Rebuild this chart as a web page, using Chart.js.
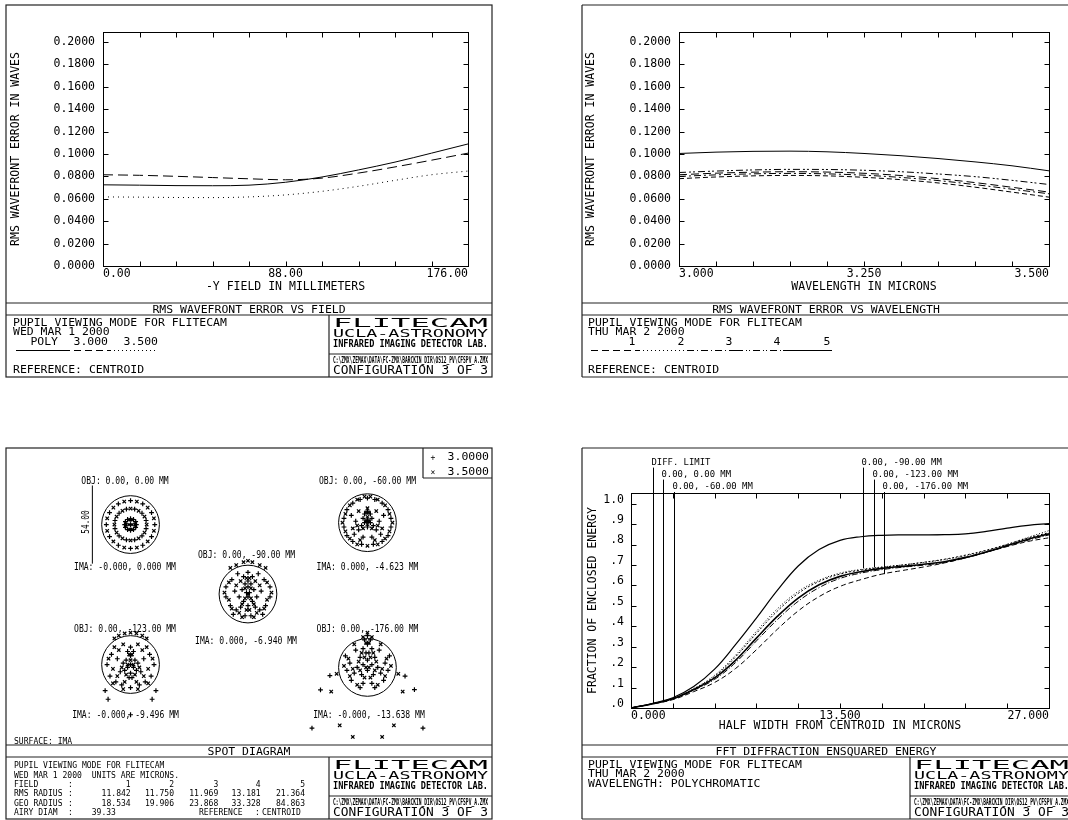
<!DOCTYPE html>
<html>
<head>
<meta charset="utf-8">
<script src="https://cdn.jsdelivr.net/npm/chart.js@4.4.1/dist/chart.umd.min.js"></script>
<style>
html, body { margin: 0; background: #fff; }
#page { position: relative; width: 1068px; height: 820px; overflow: hidden; background: #fff; }
canvas { position: absolute; }
#sheet { position: absolute; left: 0; top: 0; pointer-events: none; }
</style>
</head>
<body>
<div id="page">
  <canvas id="fieldChart" width="486" height="298" style="left:6px;top:5px"></canvas>
  <canvas id="waveChart" width="486" height="298" style="left:582px;top:5px"></canvas>
  <canvas id="spotChart" width="486" height="297" style="left:6px;top:448px"></canvas>
  <canvas id="eeChart" width="486" height="297" style="left:582px;top:448px"></canvas>
  <svg id="sheet" width="1068" height="820"></svg>
</div>
<script>
// ---- RMS wavefront error vs field (waves) ----
var fieldMm = [0, 17.6, 35.2, 52.8, 70.4, 88, 105.6, 123.2, 140.8, 158.4, 176];
var rmsPoly = [0.0725, 0.0722, 0.0718, 0.0717, 0.0722, 0.0748, 0.0795, 0.0858, 0.0928, 0.1008, 0.1090];
var rms3000 = [0.0815, 0.0810, 0.0801, 0.0790, 0.0779, 0.0770, 0.0785, 0.0830, 0.0885, 0.0945, 0.1008];
var rms3500 = [0.0617, 0.0615, 0.0612, 0.0611, 0.0617, 0.0635, 0.0667, 0.0712, 0.0765, 0.0815, 0.0848];
var fieldLabelAt = [0, 88, 176];
var fieldLabels = ["0.00", "88.00", "176.00"];
var rmsTicks = [0, 0.02, 0.04, 0.06, 0.08, 0.1, 0.12, 0.14, 0.16, 0.18, 0.2];

// ---- RMS wavefront error vs wavelength, one series per field ----
var waveUm = [3.0, 3.05, 3.1, 3.15, 3.2, 3.25, 3.3, 3.35, 3.4, 3.45, 3.5];
var rmsWave1 = [0.0815, 0.0829, 0.0838, 0.0842, 0.0839, 0.0828, 0.0808, 0.0780, 0.0745, 0.0703, 0.0660];
var rmsWave2 = [0.0780, 0.0795, 0.0805, 0.0809, 0.0805, 0.0792, 0.0771, 0.0742, 0.0704, 0.0660, 0.0615];
var rmsWave3 = [0.0800, 0.0814, 0.0823, 0.0827, 0.0823, 0.0811, 0.0791, 0.0763, 0.0727, 0.0686, 0.0645];
var rmsWave4 = [0.0835, 0.0848, 0.0858, 0.0863, 0.0862, 0.0855, 0.0842, 0.0822, 0.0798, 0.0765, 0.0728];
var rmsWave5 = [0.1005, 0.1017, 0.1024, 0.1026, 0.1020, 0.1005, 0.0985, 0.0960, 0.0930, 0.0895, 0.0850];
var waveLabelAt = [3.0, 3.25, 3.5];
var waveLabels = ["3.000", "3.250", "3.500"];

// ---- FFT diffraction ensquared energy ----
var eeUm = [0, 1.35, 2.7, 4.05, 5.4, 6.75, 8.1, 9.45, 10.8, 12.15, 13.5, 14.85, 16.2, 17.55, 18.9, 20.25, 21.6, 22.95, 24.3, 25.65, 27];
var eeDiff = [0, 0.022, 0.050, 0.105, 0.190, 0.310, 0.440, 0.575, 0.695, 0.775, 0.820, 0.838, 0.845, 0.847, 0.847, 0.848, 0.852, 0.864, 0.880, 0.894, 0.902];
var eeField1 = [0, 0.021, 0.047, 0.095, 0.160, 0.258, 0.375, 0.485, 0.570, 0.625, 0.660, 0.678, 0.690, 0.700, 0.712, 0.726, 0.745, 0.770, 0.800, 0.835, 0.868];
var eeField2 = [0, 0.021, 0.046, 0.093, 0.155, 0.250, 0.365, 0.474, 0.561, 0.619, 0.655, 0.675, 0.688, 0.700, 0.713, 0.728, 0.748, 0.772, 0.801, 0.832, 0.858];
var eeField3 = [0, 0.020, 0.045, 0.090, 0.147, 0.233, 0.342, 0.448, 0.538, 0.603, 0.644, 0.667, 0.683, 0.693, 0.703, 0.716, 0.737, 0.764, 0.795, 0.826, 0.852];
var eeField4 = [0, 0.020, 0.044, 0.087, 0.140, 0.222, 0.328, 0.432, 0.522, 0.589, 0.634, 0.660, 0.677, 0.689, 0.699, 0.712, 0.734, 0.762, 0.792, 0.821, 0.847];
var eeField5 = [0, 0.019, 0.041, 0.080, 0.125, 0.193, 0.285, 0.385, 0.475, 0.545, 0.595, 0.628, 0.655, 0.673, 0.690, 0.710, 0.735, 0.762, 0.790, 0.815, 0.833];
var eeTicks = [0, 2.7, 5.4, 8.1, 10.8, 13.5, 16.2, 18.9, 21.6, 24.3, 27];
var eeLabelAt = [0, 13.5, 27];
var eeLabels = ["0.000", "13.500", "27.000"];
var fracTicks = [0, 0.1, 0.2, 0.3, 0.4, 0.5, 0.6, 0.7, 0.8, 0.9, 1.0];
var fracLabels = [".0", ".1", ".2", ".3", ".4", ".5", ".6", ".7", ".8", ".9", "1.0"];
var markerUm = [1.40, 2.09, 2.76, 14.99, 15.68, 16.35];
var markerFrac = [0.024, 0.036, 0.050, 0.684, 0.688, 0.655];
var markerText = ["DIFF. LIMIT", "0.00, 0.00 MM", "0.00, -60.00 MM", "0.00, -90.00 MM", "0.00, -123.00 MM", "0.00, -176.00 MM"];

// ---- spot diagram (ray offsets in microns, + = 3.0000, x = 3.5000) ----
var airyDiam = 39.33;
var scaleBarUm = 54;
var spotObj = ["OBJ: 0.00, 0.00 MM", "OBJ: 0.00, -60.00 MM", "OBJ: 0.00, -90.00 MM", "OBJ: 0.00, -123.00 MM", "OBJ: 0.00, -176.00 MM"];
var spotIma = ["IMA: -0.000, 0.000 MM", "IMA: 0.000, -4.623 MM", "IMA: 0.000, -6.940 MM", "IMA: -0.000, -9.496 MM", "IMA: -0.000, -13.638 MM"];
var rmsRadius = ["11.842", "11.750", "11.969", "13.181", "21.364"];
var geoRadius = ["18.534", "19.906", "23.868", "33.328", "84.863"];

var spot1Plus = [[16.5,0],[14.3,8.3],[8.3,14.3],[0,16.5],[-8.3,14.3],[-14.3,8.3],[-16.5,0],[-14.3,-8.3],[-8.3,-14.3],[0,-16.5],[8.3,-14.3],[14.3,-8.3],
  [10.6,2.8],[7.8,7.8],[2.8,10.6],[-2.8,10.6],[-7.8,7.8],[-10.6,2.8],[-10.6,-2.8],[-7.8,-7.8],[-2.8,-10.6],[2.8,-10.6],[7.8,-7.8],[10.6,-2.8],
  [4,0],[3.5,2],[2,3.5],[0,4],[-2,3.5],[-3.5,2],[-4,0],[-3.5,-2],[-2,-3.5],[0,-4],[2,-3.5],[3.5,-2],[0,0]];
var spot1Cross = [[15.9,4.3],[11.7,11.7],[4.3,15.9],[-4.3,15.9],[-11.7,11.7],[-15.9,4.3],[-15.9,-4.3],[-11.7,-11.7],[-4.3,-15.9],[4.3,-15.9],[11.7,-11.7],[15.9,-4.3],
  [11,0],[9.5,5.5],[5.5,9.5],[0,11],[-5.5,9.5],[-9.5,5.5],[-11,0],[-9.5,-5.5],[-5.5,-9.5],[0,-11],[5.5,-9.5],[9.5,-5.5],
  [3.3,1.2],[1.2,3.3],[-1.2,3.3],[-3.3,1.2],[-3.3,-1.2],[-1.2,-3.3],[1.2,-3.3],[3.3,-1.2],[1,0],[-1,0]];
var spot2Plus = [[0,17],[5,16],[-5,16],[10,13.5],[-10,13.5],[14,9],[-14,9],[16,3],[-16,3],[16,-3],[-16,-3],[14,-9],[-14,-9],[10,-13],[-10,-13],[4,-15],[-4,-15],
  [0,8],[2,6],[-2,6],[3,3],[-3,3],[0,2],[2,0],[-2,0],[4,-2],[-4,-2],[0,-3],[6,-5],[-6,-5],[8,1],[-8,1],[9,-8],[-9,-8],[3,-10],[-3,-10],[11,5],[-11,5]];
var spot2Cross = [[2,18],[-2,18],[7,16],[-7,16],[12,12],[-12,12],[15,6],[-15,6],[17,0],[-17,0],[15,-6],[-15,-6],[12,-11],[-12,-11],[7,-15],[-7,-15],[0,-16],
  [0,10],[1,7],[-1,7],[0,4],[1,1],[-1,1],[0,-1],[3,-4],[-3,-4],[6,8],[-6,8],[7,-2],[-7,-2],[10,-4],[-10,-4],[5,-12],[-5,-12]];
var spot3Plus = [[0,15],[3,12],[-3,12],[0,9],[2,7],[-2,7],[0,5],[4,3],[-4,3],[1,1],[-1,1],[0,-2],[3,-5],[-3,-5],[0,-8],[5,-9],[-5,-9],[8,-11],[-8,-11],[12,-8],[-12,-8],
  [15,-2],[-15,-2],[15,5],[-15,5],[11,10],[-11,10],[7,14],[-7,14],[9,2],[-9,2],[6,-2],[-6,-2],[2,-15],[-2,-15],[10,-14],[-10,-14]];
var spot3Cross = [[3,22],[-3,22],[8,20],[-8,20],[12,18],[-12,18],[0,23],[1,11],[-1,11],[2,4],[-2,4],[0,0],[2,-3],[-2,-3],[4,-7],[-4,-7],[1,-11],[-1,-11],[6,-13],[-6,-13],
  [13,-4],[-13,-4],[16,1],[-16,1],[13,8],[-13,8],[8,6],[-8,6],[5,9],[-5,9],[11,-10],[-11,-10],[4,-16],[-4,-16]];
var spot4Plus = [[0,12],[2,9],[-2,9],[0,6],[3,3],[-3,3],[5,1],[-5,1],[0,0],[2,-2],[-2,-2],[4,-4],[-4,-4],[0,-6],[7,-5],[-7,-5],[1,-9],[-1,-9],[10,-12],[-10,-12],
  [6,-14],[-6,-14],[14,-8],[-14,-8],[16,0],[-16,0],[13,7],[-13,7],[9,4],[-9,4],[-17.3,-18],[17.3,-18],[-15.3,-24],[14.7,-24],[0,-34.7],[0,-16]];
var spot4Cross = [[0,22],[4,21.5],[-4,21.5],[8,20],[-8,20],[11,18],[-11,18],[5,14],[-5,14],[8,10],[-8,10],[1,7],[-1,7],[0,3],[2,0],[-2,0],[6,-2],[-6,-2],[3,-7],[-3,-7],
  [9,-8],[-9,-8],[12,-3],[-12,-3],[15,4],[-15,4],[11,12],[-11,12],[4,-12],[-4,-12],[12,-13],[-12,-13],[5,-17],[-5,-17]];
var spot5Plus = [[0,22],[2,19],[-2,19],[0,16],[3,13],[-3,13],[1,10],[-1,10],[5,7],[-5,7],[0,5],[3,2],[-3,2],[7,0],[-7,0],[0,-2],[4,-5],[-4,-5],[9,-4],[-9,-4],
  [12,3],[-12,3],[14,-2],[-14,-2],[11,-9],[-11,-9],[3,-11],[-3,-11],[8,12],[-8,12],[-32,-15.5],[32,-15.3],[-25.6,-5.6],[25.6,-6],[-37.8,-42],[37.8,-42],[5,-14],[-5,-14],[15,8],[-15,8]];
var spot5Cross = [[0,24],[3,21],[-3,21],[1,17],[-1,17],[4,10],[-4,10],[2,7],[-2,7],[6,4],[-6,4],[1,0],[-1,0],[5,-2],[-5,-2],[2,-7],[-2,-7],[10,-1],[-10,-1],
  [13,6],[-13,6],[16,1],[-16,1],[12,-6],[-12,-6],[7,-12],[-7,-12],[9,16],[-9,16],[-24.7,-16.7],[24,-16.7],[-21,-4.4],[21,-4.4],[-18.9,-40],[18,-40],[-10,-48],[10,-48]];

Chart.defaults.font.family = "'DejaVu Sans Mono', monospace";
Chart.defaults.color = "#000";

var axisFont = { family: "'DejaVu Sans Mono', monospace", size: 11.5 };

// box round the plot with small inward ticks on all four sides
var frameTicks = {
  id: "frameTicks",
  afterDatasetsDraw: function(chart) {
    var ctx = chart.ctx, a = chart.chartArea, x = chart.scales.x, y = chart.scales.y, len = 5;
    var L = Math.round(a.left) + 0.5, R = Math.round(a.right) + 0.5, T = Math.round(a.top) + 0.5, B = Math.round(a.bottom) + 0.5;
    ctx.save();
    ctx.strokeStyle = "#000";
    ctx.lineWidth = 1;
    ctx.strokeRect(L, T, R - L, B - T);
    ctx.beginPath();
    x.ticks.forEach(function(t) {
      var p = Math.round(x.getPixelForValue(t.value)) + 0.5;
      ctx.moveTo(p, T); ctx.lineTo(p, T + len);
      ctx.moveTo(p, B); ctx.lineTo(p, B - len);
    });
    y.ticks.forEach(function(t) {
      var p = Math.round(y.getPixelForValue(t.value)) + 0.5;
      ctx.moveTo(L, p); ctx.lineTo(L + len, p);
      ctx.moveTo(R, p); ctx.lineTo(R - len, p);
    });
    ctx.stroke();
    ctx.restore();
  }
};

function xAxis(min, max, tickVals, labelAt, labels, title, titlePad) {
  return {
    type: "linear", min: min, max: max,
    afterBuildTicks: function(s) { s.ticks = tickVals.map(function(v) { return { value: v }; }); },
    afterFit: function(s) { s.height = 37; },
    ticks: {
      autoSkip: false, maxRotation: 0, align: "inner", padding: 1, font: axisFont,
      callback: function(v) { var i = labelAt.indexOf(v); return i < 0 ? "" : labels[i]; }
    },
    grid: { display: false, drawTicks: false },
    border: { display: false },
    title: { display: true, text: title, font: axisFont, padding: { top: 0, bottom: titlePad } }
  };
}

function yAxis(max, tickVals, fmt, width, labelPad, title, titlePad, labelOffset) {
  return {
    type: "linear", min: 0, max: max,
    afterBuildTicks: function(s) { s.ticks = tickVals.map(function(v) { return { value: v }; }); },
    afterFit: function(s) { s.width = width; },
    ticks: { autoSkip: false, padding: labelPad, font: axisFont, labelOffset: labelOffset || 0, callback: fmt },
    grid: { display: false, drawTicks: false },
    border: { display: false },
    title: { display: true, text: title, font: axisFont, padding: { top: titlePad, bottom: 0 } }
  };
}

function series(xs, ys, dash, width, smooth) {
  return {
    data: xs.map(function(v, i) { return { x: v, y: ys[i] }; }),
    borderColor: "#000", borderWidth: width || 1, borderDash: dash || [],
    pointRadius: 0, fill: false,
    cubicInterpolationMode: smooth || "monotone", tension: 0.4
  };
}

var baseOpts = function(padding, scales) {
  return {
    responsive: false, animation: false, events: [],
    layout: { padding: padding },
    plugins: { legend: { display: false }, tooltip: { enabled: false } },
    scales: scales
  };
};

new Chart(document.getElementById("fieldChart"), {
  type: "line",
  data: { datasets: [
    series(fieldMm, rmsPoly, []),
    series(fieldMm, rms3000, [10, 5]),
    series(fieldMm, rms3500, [1, 4])
  ]},
  options: baseOpts({ top: 27, right: 24, left: 0, bottom: 0 }, {
    x: xAxis(0, 176, fieldMm, fieldLabelAt, fieldLabels, "-Y FIELD IN MILLIMETERS", 9.1),
    y: yAxis(0.209, rmsTicks, function(v) { return v.toFixed(4); }, 97, 8, "RMS WAVEFRONT ERROR IN WAVES", 3.1)
  }),
  plugins: [frameTicks]
});

new Chart(document.getElementById("waveChart"), {
  type: "line",
  data: { datasets: [
    series(waveUm, rmsWave1, [8, 4]),
    series(waveUm, rmsWave2, [5, 3]),
    series(waveUm, rmsWave3, [7, 3, 2, 3]),
    series(waveUm, rmsWave4, [7, 3, 2, 2, 2, 3]),
    series(waveUm, rmsWave5, [])
  ]},
  options: baseOpts({ top: 27, right: 19, left: 0, bottom: 0 }, {
    x: xAxis(3.0, 3.5, waveUm, waveLabelAt, waveLabels, "WAVELENGTH IN MICRONS", 9.1),
    y: yAxis(0.209, rmsTicks, function(v) { return v.toFixed(4); }, 97, 8, "RMS WAVEFRONT ERROR IN WAVES", 2.1)
  }),
  plugins: [frameTicks]
});

// leader lines and field labels above the ensquared energy plot
var leaderRows = [16.6, 28.6, 41];
var leaders = {
  id: "leaders",
  afterDatasetsDraw: function(chart) {
    var ctx = chart.ctx, x = chart.scales.x, y = chart.scales.y;
    ctx.save();
    ctx.strokeStyle = "#000";
    ctx.fillStyle = "#000";
    ctx.lineWidth = 1;
    ctx.font = "9.5px 'DejaVu Sans Mono'";
    ctx.textBaseline = "alphabetic";
    markerUm.forEach(function(m, i) {
      var px = Math.round(x.getPixelForValue(m)) + 0.5;
      var base = leaderRows[i % 3];
      ctx.beginPath();
      ctx.moveTo(px, base + 3);
      ctx.lineTo(px, y.getPixelForValue(markerFrac[i]));
      ctx.stroke();
      ctx.fillText(markerText[i], px - 2, base, markerText[i].length * 5.35);
    });
    ctx.restore();
  }
};

new Chart(document.getElementById("eeChart"), {
  type: "line",
  data: { datasets: [
    series(eeUm, eeDiff, [], 1.2, "default"),
    series(eeUm, eeField1, [1, 2], 1, "default"),
    series(eeUm, eeField2, [2, 2], 1, "default"),
    series(eeUm, eeField3, [], 1.6, "default"),
    series(eeUm, eeField4, [6, 2, 1, 2], 1, "default"),
    series(eeUm, eeField5, [5, 3], 1, "default")
  ]},
  options: baseOpts({ top: 45, right: 19, left: 0, bottom: 0 }, {
    x: xAxis(0, 27, eeTicks, eeLabelAt, eeLabels, "HALF WIDTH FROM CENTROID IN MICRONS", 12.1),
    y: yAxis(1.052, fracTicks, function(v) { return fracLabels[fracTicks.indexOf(v)]; }, 49, 7, "FRACTION OF ENCLOSED ENERGY", 4.1, -4)
  }),
  plugins: [frameTicks, leaders]
});

// spot diagram: sheet measured in microns, spot centres are layout positions on it
var sheetUm = { w: 324, h: 198 };
var spotCentres = [[81.3, 148.7], [242.7, 150], [161.3, 100.7], [81.3, 52], [242.7, 50]];
var spotSets = [[spot1Plus, spot1Cross], [spot2Plus, spot2Cross], [spot3Plus, spot3Cross], [spot4Plus, spot4Cross], [spot5Plus, spot5Cross]];
var spotDatasets = [];
spotSets.forEach(function(set, i) {
  var c = spotCentres[i];
  ["cross", "crossRot"].forEach(function(style, k) {
    spotDatasets.push({
      data: set[k].map(function(p) { return { x: c[0] + p[0], y: c[1] + p[1] }; }),
      pointStyle: style, pointRadius: 2.4, borderColor: "#000", borderWidth: 1.2, backgroundColor: "#000"
    });
  });
});
spotDatasets.push({
  data: spotCentres.map(function(c) { return { x: c[0], y: c[1] }; }),
  pointStyle: "circle", backgroundColor: "rgba(0,0,0,0)", borderColor: "#000", borderWidth: 1,
  pointRadius: function(ctx) { return airyDiam / 2 * ctx.chart.scales.x.width / sheetUm.w; }
});
spotDatasets.push({
  data: [{ x: spotCentres[0][0] - 26, y: spotCentres[0][1] - scaleBarUm / 2 }, { x: spotCentres[0][0] - 26, y: spotCentres[0][1] + scaleBarUm / 2 }],
  showLine: true, pointRadius: 0, borderColor: "#000", borderWidth: 1
});

new Chart(document.getElementById("spotChart"), {
  type: "scatter",
  data: { datasets: spotDatasets },
  options: {
    responsive: false, animation: false, events: [],
    layout: { padding: 0 },
    plugins: { legend: { display: false }, tooltip: { enabled: false } },
    scales: {
      x: { type: "linear", min: 0, max: sheetUm.w, display: false },
      y: { type: "linear", min: 0, max: sheetUm.h, display: false }
    }
  }
});

// ---- sheet: frames, title rows and text blocks ----
var NS = "http://www.w3.org/2000/svg";
var sheet = document.getElementById("sheet");
function el(tag, attrs, text) {
  var e = document.createElementNS(NS, tag);
  for (var k in attrs) e.setAttribute(k, attrs[k]);
  if (text != null) e.textContent = text;
  sheet.appendChild(e);
  return e;
}
function ln(x1, y1, x2, y2, dash, color, w) {
  el("line", { x1: x1, y1: y1, x2: x2, y2: y2, stroke: color || "#222", "stroke-width": w || 1.2, "stroke-dasharray": dash || "none" });
}
function tx(x, y, s, o) {
  o = o || {};
  var size = o.size || 10, cw = o.cw === undefined ? 6.9 : o.cw;
  var a = { x: x, y: y, "font-family": "DejaVu Sans Mono", "font-size": size, fill: "#000", "text-anchor": o.anchor || "start" };
  if (o.len) { a.textLength = o.len; a.lengthAdjust = "spacingAndGlyphs"; }
  else if (cw) { a.textLength = s.length * cw; a.lengthAdjust = "spacingAndGlyphs"; }
  if (o.weight) a["font-weight"] = o.weight;
  if (o.rot) a.transform = "rotate(" + o.rot + " " + x + " " + y + ")";
  return el("text", a, s);
}
function block(x0, y0) {
  ln(x0, y0, x0, y0 + 62);
  ln(x0, y0 + 39, x0 + 163, y0 + 39);
  tx(x0 + 4, y0 + 11.7, "FLITECAM", { size: 12.5, len: 155, cw: 0 });
  tx(x0 + 4, y0 + 22.3, "UCLA-ASTRONOMY", { size: 10, len: 155, cw: 0 });
  tx(x0 + 4, y0 + 31.7, "INFRARED IMAGING DETECTOR LAB.", { size: 10, len: 155, cw: 0, weight: "bold" });
  tx(x0 + 4, y0 + 48.3, "C:\\ZMX\\ZEMAX\\DATA\\FC-ZMX\\BARCKIN_DIR\\OS12_PV\\CFSPV_A.ZMX", { size: 8, len: 155, cw: 0, weight: "bold" });
  tx(x0 + 4, y0 + 59.3, "CONFIGURATION 3 OF 3", { size: 12.5, len: 155, cw: 0 });
}

// top left frame
el("rect", { x: 6, y: 5, width: 486, height: 372, fill: "none", stroke: "#222", "stroke-width": 1.2 });
ln(6, 303, 492, 303); ln(6, 315, 492, 315);
tx(249, 312.5, "RMS WAVEFRONT ERROR VS FIELD", { anchor: "middle" });
tx(13, 325.7, "PUPIL VIEWING MODE FOR FLITECAM");
tx(13, 335, "WED MAR 1 2000");
tx(58, 345, "POLY", { anchor: "end" });
tx(108, 345, "3.000", { anchor: "end" });
tx(158, 345, "3.500", { anchor: "end" });
ln(16, 350.5, 63, 350.5, "none", "#000", 1);
ln(63, 350.5, 110, 350.5, "7 4", "#000", 1);
ln(110, 350.5, 158, 350.5, "1 3", "#000", 1);
tx(13, 372.7, "REFERENCE: CENTROID");
block(329, 315);

// top right frame (runs off the right edge)
ln(582, 5, 1075, 5); ln(582, 5, 582, 377); ln(582, 377, 1075, 377);
ln(582, 303, 1075, 303); ln(582, 315, 1075, 315);
tx(826, 312.5, "RMS WAVEFRONT ERROR VS WAVELENGTH", { anchor: "middle" });
tx(588, 325.7, "PUPIL VIEWING MODE FOR FLITECAM");
tx(588, 335, "THU MAR 2 2000");
["1", "2", "3", "4", "5"].forEach(function(n, i) { tx([632, 681, 729, 777, 827][i], 345, n, { anchor: "middle" }); });
ln(591, 350.5, 639, 350.5, "7 4", "#000", 1);
ln(639, 350.5, 687, 350.5, "1 3", "#000", 1);
ln(687, 350.5, 736, 350.5, "7 3 1 3", "#000", 1);
ln(736, 350.5, 784, 350.5, "7 3 1 2 1 3", "#000", 1);
ln(784, 350.5, 832, 350.5, "none", "#000", 1);
tx(588, 372.7, "REFERENCE: CENTROID");

// bottom left frame (spot diagram)
el("rect", { x: 6, y: 448, width: 486, height: 371, fill: "none", stroke: "#222", "stroke-width": 1.2 });
ln(6, 745, 492, 745); ln(6, 757, 492, 757);
ln(423, 448, 423, 478); ln(423, 478, 492, 478);
tx(433, 460.4, "+", { size: 8, cw: 0, anchor: "middle" });
tx(489, 460.4, "3.0000", { anchor: "end" });
tx(433, 475.4, "\u00d7", { size: 8, cw: 0, anchor: "middle" });
tx(489, 475.4, "3.5000", { anchor: "end" });
var objPos = [[125, 483.5], [367.5, 483.5], [246.5, 557.5], [125, 631.5], [367.5, 631.5]];
var imaPos = [[125, 569.5], [367.5, 569.5], [246, 643.5], [125.5, 717.5], [369, 717.5]];
var cond = { size: 9.5, cw: 4.85 };
spotObj.forEach(function(s, i) { tx(objPos[i][0], objPos[i][1], s, { size: 10, cw: 4.85, anchor: "middle" }); });
spotIma.forEach(function(s, i) { tx(imaPos[i][0], imaPos[i][1], s, { size: 10, cw: 4.85, anchor: "middle" }); });
tx(89, 522, "54.00", { size: 10, cw: 4.7, anchor: "middle", rot: -90 });
tx(14, 744, "SURFACE: IMA", cond);
tx(249, 754.5, "SPOT DIAGRAM", { anchor: "middle" });
tx(14, 767.7, "PUPIL VIEWING MODE FOR FLITECAM", cond);
tx(14, 777.7, "WED MAR 1 2000", cond);
tx(91.7, 777.7, "UNITS ARE MICRONS.", cond);
var colEnd = [130.7, 174, 218.3, 260.7, 305];
[["FIELD", ["1", "2", "3", "4", "5"], 786.7], ["RMS RADIUS", rmsRadius, 796], ["GEO RADIUS", geoRadius, 805.7]].forEach(function(row) {
  tx(14, row[2], row[0], cond);
  tx(68, row[2], ":", cond);
  row[1].forEach(function(v, i) { tx(colEnd[i], row[2], v, { size: 9.5, cw: 4.85, anchor: "end" }); });
});
tx(14, 815, "AIRY DIAM", cond);
tx(68, 815, ":", cond);
tx(91.7, 815, airyDiam.toFixed(2), cond);
tx(199, 815, "REFERENCE", cond);
tx(255, 815, ":", cond);
tx(262, 815, "CENTROID", cond);
block(329, 757);

// bottom right frame (runs off the right edge)
ln(582, 448, 1075, 448); ln(582, 448, 582, 819); ln(582, 819, 1075, 819);
ln(582, 745, 1075, 745); ln(582, 757, 1075, 757);
tx(826, 754.5, "FFT DIFFRACTION ENSQUARED ENERGY", { anchor: "middle" });
tx(588, 768.3, "PUPIL VIEWING MODE FOR FLITECAM");
tx(588, 777.3, "THU MAR 2 2000");
tx(588, 786.7, "WAVELENGTH: POLYCHROMATIC");
block(910, 757);
</script>
</body>
</html>
